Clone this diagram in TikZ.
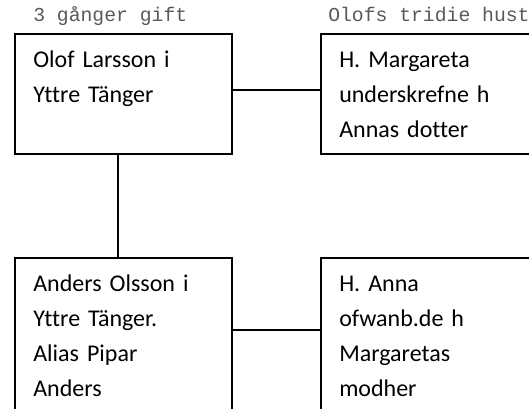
\documentclass[tikz,border=0pt]{standalone}
\usepackage{fontspec}
\setmainfont[Ligatures=NoCommon]{Carlito}
\newfontfamily\notefont{Liberation Mono}
\usepackage{xcolor}
\usepackage{tikz}
\usetikzlibrary{positioning}
\usetikzlibrary{calc}

\definecolor{notegray}{RGB}{89,89,89}

\tikzset{
    personbox/.style = {draw, line width=1.2pt, anchor=north west,
        minimum width=162.75pt, inner sep=0pt},
    persontext/.style = {anchor=north west, inner sep=0pt, align=left,
        text width=150pt, font=\fontsize{18}{26.25}\selectfont},
    notetext/.style = {anchor=base west, inner sep=0pt, text=notegray,
        font=\notefont\fontsize{14.8}{16}\selectfont},
    tie/.style = {line width=1.2pt}
}

\begin{document}
\begin{tikzpicture}[x=0.75pt, y=-0.75pt]
    \useasboundingbox (0, 0) rectangle (529, 409);

    \node[notetext] (gift) at (33, 21.5) {3 gånger gift};
    \node[notetext] (hustru) at (328, 21.5) {Olofs tridie hust};

    % boxes
    \node[personbox, minimum height=90pt] (olof) at (14, 33) {};
    \node[personbox, minimum height=90pt] (margareta) at (320, 33) {};
    \node[personbox, minimum height=120pt] (anders) at (14, 257) {};
    \node[personbox, minimum height=120pt] (anna) at (320, 257) {};

    \node[persontext] (olofname) at (33, 42.5)
        {\strut Olof Larsson i\\Yttre Tänger};
    \node[persontext] (margaretaname) at (339, 42.5)
        {\strut H. Margareta\\underskrefne h\\Annas dotter};
    \node[persontext] (andersname) at (33, 266.5)
        {\strut Anders Olsson i\\Yttre Tänger.\\Alias Pipar\\Anders};
    \node[persontext] (annaname) at (339, 266.5)
        {\strut H. Anna\\ofwanb.de h\\Margaretas\\modher};

    % lines
    \draw[tie] ($(olof.north east)+(0, 57)$) -- ($(margareta.north west)+(0, 57)$);
    \draw[tie] ($(olof.south)+(-5.5, 0)$) -- ($(anders.north)+(-5.5, 0)$);
    \draw[tie] ($(anders.north east)+(0, 73)$) -- ($(anna.north west)+(0, 73)$);
\end{tikzpicture}
\end{document}
